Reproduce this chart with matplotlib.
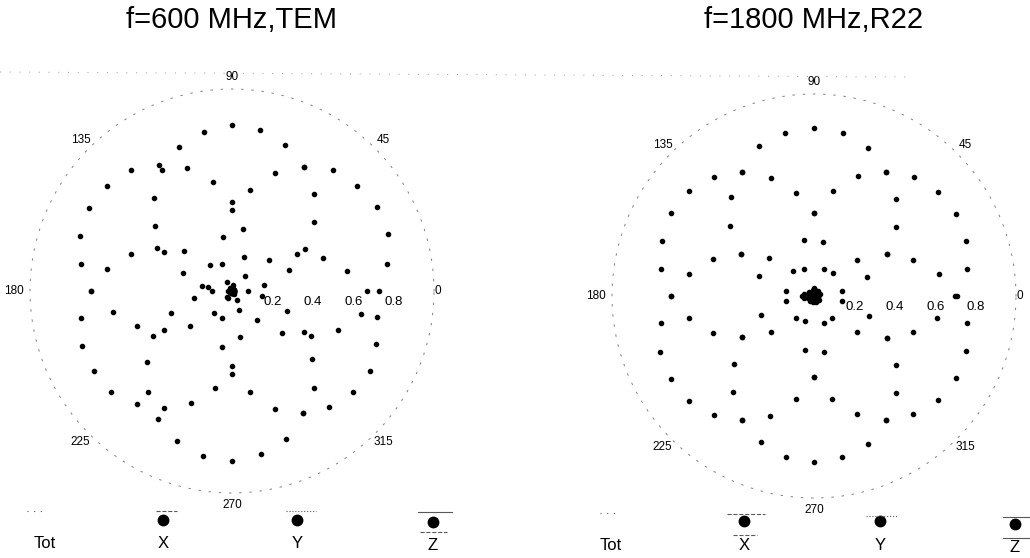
import numpy as np
import matplotlib.pyplot as plt
from matplotlib.lines import Line2D

plt.rcParams['font.family'] = ['Liberation Sans', 'DejaVu Sans']

# measurement angles (deg), one point every 10 degrees
angles = np.arange(0, 360, 10)

# f=600 MHz, TEM  (normalised field)
tem_tot = [0.73, 0.78, 0.82, 0.83, 0.81, 0.78, 0.71, 0.77, 0.81, 0.82, 0.80, 0.76,
           0.72, 0.78, 0.81, 0.82, 0.80, 0.76, 0.70, 0.76, 0.79, 0.79, 0.78, 0.73,
           0.73, 0.79, 0.83, 0.84, 0.82, 0.78, 0.70, 0.75, 0.78, 0.79, 0.76, 0.73]
tem_x = [0.08, 0.16, 0.30, 0.42, 0.53, 0.63, 0.71, 0.62, 0.51, 0.40, 0.27, 0.14,
         0.02, 0.17, 0.31, 0.39, 0.53, 0.63, 0.70, 0.60, 0.50, 0.39, 0.27, 0.14,
         0.04, 0.14, 0.28, 0.41, 0.51, 0.62, 0.70, 0.63, 0.52, 0.41, 0.29, 0.15]
tem_y = [0.67, 0.58, 0.48, 0.37, 0.24, 0.10, 0.01, 0.18, 0.31, 0.44, 0.55, 0.65,
         0.69, 0.60, 0.50, 0.43, 0.26, 0.12, 0.02, 0.19, 0.32, 0.45, 0.55, 0.65,
         0.67, 0.59, 0.49, 0.37, 0.23, 0.10, 0.02, 0.19, 0.32, 0.45, 0.56, 0.65]
tem_z = [0.01, 0.01, 0.01, 0.01, 0.01, 0.01, 0.01, 0.01, 0.03, 0.01, 0.01, 0.01,
         0.05, 0.01, 0.01, 0.01, 0.01, 0.15, 0.10, 0.01, 0.01, 0.01, 0.01, 0.04,
         0.01, 0.01, 0.01, 0.01, 0.01, 0.01, 0.05, 0.01, 0.01, 0.01, 0.01, 0.01]

# f=1800 MHz, R22
r22_tot = [0.70, 0.77, 0.80, 0.81, 0.80, 0.77, 0.71, 0.78, 0.82, 0.83, 0.82, 0.79,
           0.71, 0.77, 0.81, 0.82, 0.80, 0.77, 0.71, 0.77, 0.81, 0.82, 0.81, 0.77,
           0.71, 0.77, 0.81, 0.82, 0.81, 0.78, 0.71, 0.76, 0.80, 0.81, 0.80, 0.77]
r22_x = [0.00, 0.14, 0.28, 0.42, 0.53, 0.63, 0.71, 0.63, 0.53, 0.41, 0.28, 0.14,
         0.01, 0.16, 0.29, 0.42, 0.53, 0.63, 0.71, 0.63, 0.53, 0.41, 0.28, 0.14,
         0.01, 0.13, 0.27, 0.40, 0.52, 0.62, 0.71, 0.63, 0.53, 0.42, 0.29, 0.14]
r22_y = [0.71, 0.63, 0.52, 0.42, 0.28, 0.15, 0.00, 0.14, 0.27, 0.41, 0.52, 0.62,
         0.71, 0.64, 0.54, 0.42, 0.29, 0.14, 0.00, 0.14, 0.28, 0.41, 0.52, 0.62,
         0.71, 0.63, 0.52, 0.40, 0.28, 0.14, 0.00, 0.14, 0.28, 0.42, 0.52, 0.62]
r22_z = [0.02, 0.02, 0.03, 0.02, 0.02, 0.03, 0.02, 0.02, 0.03, 0.04, 0.03, 0.02,
         0.02, 0.02, 0.03, 0.02, 0.03, 0.05, 0.06, 0.05, 0.03, 0.02, 0.02, 0.03,
         0.02, 0.02, 0.03, 0.02, 0.02, 0.03, 0.02, 0.02, 0.03, 0.02, 0.02, 0.02]

angle_ticks = [0, 45, 90, 135, 180, 225, 270, 315]
radial_ticks = [0.2, 0.4, 0.6, 0.8]

W, H = 1030, 558
fig = plt.figure(figsize=(W / 100, H / 100), dpi=100)


def px(x, y):
    # pixel position (from top-left) -> figure fraction
    return x / W, 1 - y / H


def polar_panel(cx, cy, title, series):
    R = 202
    ax = fig.add_axes([(cx - R) / W, (H - cy - R) / H, 2 * R / W, 2 * R / H],
                      projection='polar')
    ax.set_ylim(0, 1)
    ax.set_xticks([])
    ax.set_yticks([])
    ax.grid(False)
    ax.patch.set_alpha(0)
    # the outer ring is barely left in the scan
    ax.spines['polar'].set_linestyle((0, (1.5, 9)))
    ax.spines['polar'].set_color('0.5')
    ax.spines['polar'].set_linewidth(0.7)
    th = np.radians(angles)
    for vals in series:
        ax.plot(th, vals, 'o', ms=3, color='black', linestyle='none', clip_on=False)
    for a in angle_ticks:
        rr = 1.06
        if a == 0:
            rr = 1.02
        elif a == 180:
            rr = 1.08
        ax.text(np.radians(a), rr, str(a), ha='center', va='center', fontsize=8.5)
    for r in radial_ticks:
        ax.annotate(f'{r:.1f}', xy=(0, r), xytext=(0, -8), textcoords='offset points',
                    ha='center', va='center', fontsize=9.5)
    fig.text(*px(cx, 20), title, ha='center', va='center', fontsize=21)


def legend_item(x, label, lab_y, dot_y, above=None, below=None):
    fig.text(*px(x, lab_y), label, ha='center', va='center', fontsize=12)
    if dot_y is not None:
        fig.add_artist(Line2D([x / W], [1 - dot_y / H], marker='o', ms=7.5,
                              color='black', transform=fig.transFigure))
    for seg in (above, below):
        if seg is None:
            continue
        x0, x1, y, ls = seg
        fig.add_artist(Line2D([x0 / W, x1 / W], [1 - y / H, 1 - y / H], ls=ls,
                              color='0.35', lw=0.8, transform=fig.transFigure))


polar_panel(232, 291, 'f=600 MHz,TEM', [tem_tot, tem_x, tem_y, tem_z])
polar_panel(814, 296, 'f=1800 MHz,R22', [r22_tot, r22_x, r22_y, r22_z])

# faint dotted rule across the top
fig.add_artist(Line2D([0.0, 0.88], [1 - 72 / H, 1 - 77 / H], ls=(0, (1, 9)),
                      color='0.6', lw=0.7, transform=fig.transFigure))

# legends
legend_item(45, 'Tot', 543, None, above=(27, 45, 511, (0, (1, 5))))
legend_item(163, 'X', 543, 520, above=(156, 177, 511, '--'))
legend_item(297, 'Y', 543, 520, above=(286, 316, 511, ':'))
legend_item(433, 'Z', 545, 522, above=(418, 452, 512, '-'), below=(420, 447, 532, '--'))

legend_item(611, 'Tot', 545, None, above=(600, 620, 513, (0, (1, 5))))
legend_item(744, 'X', 545, 521, above=(727, 765, 514, '--'), below=(733, 757, 535, '--'))
legend_item(880, 'Y', 545, 521, above=(866, 897, 516, ':'))
legend_item(1015, 'Z', 548, 524, above=(1003, 1030, 517, '-'), below=(1003, 1030, 538, '-'))

fig.savefig('out.png', dpi=100)
